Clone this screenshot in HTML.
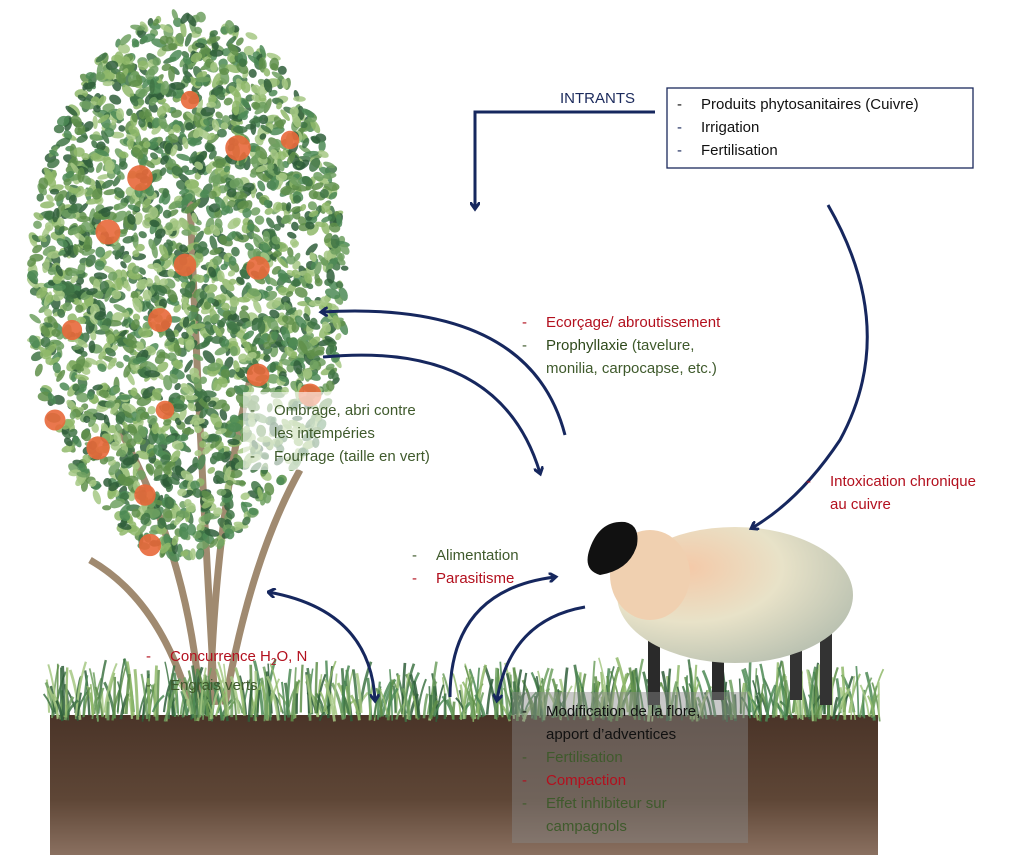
<!DOCTYPE html>
<html><head><meta charset="utf-8"><style>
body{margin:0;background:#fff;width:1029px;height:860px;overflow:hidden;position:relative;font-family:"Liberation Sans",sans-serif}
svg{position:absolute;left:0;top:0}
.t{position:absolute;font-size:15px;line-height:23px;white-space:nowrap}
.g{color:#3f5a2c}.r{color:#b3101e}.n{color:#1b2a5c}.k{color:#111}
.d{display:inline-block;width:24px}
</style></head><body>
<svg id="s" width="1029" height="860" viewBox="0 0 1029 860">
<defs>
<linearGradient id="soil" x1="0" y1="0" x2="0" y2="1"><stop offset="0" stop-color="#4a3428"/><stop offset="0.6" stop-color="#5e4636"/><stop offset="1" stop-color="#8a7060"/></linearGradient>
<radialGradient id="body" cx="0.3" cy="0.3" r="0.8"><stop offset="0" stop-color="#f4c9a8"/><stop offset="0.5" stop-color="#e8e2c8"/><stop offset="1" stop-color="#b8c0b0"/></radialGradient>
<marker id="a" markerWidth="10" markerHeight="10" refX="6" refY="5" orient="auto" markerUnits="userSpaceOnUse"><path d="M0,0 L7,5 L0,10" fill="none" stroke="#16275e" stroke-width="3"/></marker>
<marker id="b" markerWidth="10" markerHeight="10" refX="1" refY="5" orient="auto" markerUnits="userSpaceOnUse"><path d="M8,0 L1,5 L8,10" fill="none" stroke="#16275e" stroke-width="3"/></marker>
</defs>
<rect x="50" y="715" width="828" height="140" fill="url(#soil)"/>
<g id="tree"></g>
<g id="grass"></g>
<g>
<rect x="712" y="620" width="12" height="80" fill="#2a2a2a"/>
<rect x="648" y="620" width="12" height="85" fill="#2a2a2a"/>
<rect x="790" y="620" width="12" height="80" fill="#333"/>
<rect x="820" y="615" width="12" height="90" fill="#333"/>
<ellipse cx="735" cy="595" rx="118" ry="68" fill="url(#body)"/>
<ellipse cx="650" cy="575" rx="40" ry="45" fill="#f0d0b0"/>
<path d="M590,548 Q600,520 625,522 Q640,525 637,545 Q630,570 600,575 Q582,570 590,548Z" fill="#111"/>
</g>
<rect x="512" y="692" width="236" height="151" fill="#888" opacity="0.45"/>
<rect x="243" y="392" width="222" height="78" fill="#fff" opacity="0.6"/>
<rect x="667" y="88" width="306" height="80" fill="#fff" stroke="#1b2a5c" stroke-width="1.3"/>
<g fill="none" stroke="#16275e" stroke-width="3">
<path d="M655,112 L475,112 L475,208" marker-end="url(#a)"/>
<path d="M828,205 Q900,330 840,440 Q800,500 752,528" marker-end="url(#a)"/>
<path d="M565,435 Q530,300 322,312" marker-end="url(#a)"/>
<path d="M323,357 Q500,340 540,473" marker-end="url(#a)"/>
<path d="M268,592 Q370,610 375,700" marker-start="url(#b)" marker-end="url(#a)"/>
<path d="M450,697 Q450,590 555,577" marker-end="url(#a)"/>
<path d="M585,607 Q510,620 497,700" marker-end="url(#a)"/>
</g>
</svg>
<div class="t n" style="left:560px;top:87px">INTRANTS</div>
<div class="t k" style="left:677px;top:93px"><span class="d">-</span>Produits phytosanitaires (Cuivre)<br><span class="d n">-</span>Irrigation<br><span class="d n">-</span>Fertilisation</div>
<div class="t" style="left:522px;top:311px"><span class="r"><span class="d">-</span>Ecorçage/ abroutissement</span><br><span class="g"><span class="d">-</span><b style="font-weight:normal;color:#2f4a1c">Prophyllaxie</b> (tavelure,<br><span class="d"></span>monilia, carpocapse, etc.)</span></div>
<div class="t g" style="left:250px;top:399px"><span class="d">-</span>Ombrage, abri contre<br><span class="d"></span>les intempéries<br><span class="d">-</span>Fourrage (taille en vert)</div>
<div class="t r" style="left:806px;top:470px"><span class="d">-</span>Intoxication chronique<br><span class="d"></span>au cuivre</div>
<div class="t" style="left:412px;top:544px"><span class="g"><span class="d">-</span>Alimentation</span><br><span class="r"><span class="d">-</span>Parasitisme</span></div>
<div class="t" style="left:146px;top:645px"><span class="r"><span class="d">-</span>Concurrence H<sub style="font-size:10px">2</sub>O, N</span><br><span class="g"><span class="d">-</span>Engrais verts</span></div>
<div class="t" style="left:522px;top:700px"><span class="k"><span class="d">-</span>Modification de la flore,<br><span class="d"></span>apport d’adventices</span><br><span class="g"><span class="d">-</span>Fertilisation</span><br><span class="r"><span class="d">-</span>Compaction</span><br><span class="g"><span class="d">-</span>Effet inhibiteur sur<br><span class="d"></span>campagnols</span></div>
<script>
var seed=7;function R(){seed=(seed*16807)%2147483647;return seed/2147483647;}
var ns="http://www.w3.org/2000/svg";
function el(g,n,a){var e=document.createElementNS(ns,n);for(var k in a)e.setAttribute(k,a[k]);g.appendChild(e);}
var t=document.getElementById("tree");
["M200,705 Q190,560 120,430","M210,705 Q215,520 250,380","M225,705 Q250,560 300,470","M190,705 Q160,600 90,560","M215,705 Q200,450 190,200"].forEach(function(d){el(t,"path",{d:d,stroke:"#a08a70","stroke-width":7,fill:"none"});});
var greens=["#5f8f4a","#3f7445","#8fb86a","#6fa060","#2f5e3a","#a6c884","#4c8a55"];
for(var i=0;i<2600;i++){var ang=R()*6.283,r=Math.sqrt(R());var cx=188+Math.cos(ang)*r*158,cy=285+Math.sin(ang)*r*272;
if(cy>430){var w=158*(1-(cy-430)/160);if(Math.abs(cx-180)>w)continue;}
el(t,"ellipse",{cx:cx,cy:cy,rx:3.5+R()*4.5,ry:2.5+R()*2.5,fill:greens[(R()*7)|0],opacity:0.85,transform:"rotate("+(R()*180)+" "+cx+" "+cy+")"});}
[[190,100],[238,148],[140,178],[185,265],[258,268],[72,330],[160,320],[258,375],[310,395],[165,410],[55,420],[98,448],[145,495],[150,545],[108,232],[290,140]].forEach(function(p){el(t,"circle",{cx:p[0],cy:p[1],r:9+R()*4,fill:"#e8683a",opacity:0.9});});
var g=document.getElementById("grass");
for(var i=0;i<520;i++){var x=45+R()*835,h=15+R()*40,y=712+R()*10;var dx=(R()-0.5)*25;
el(g,"path",{d:"M"+x+","+y+" Q"+(x+dx*0.3)+","+(y-h*0.6)+" "+(x+dx)+","+(y-h),stroke:greens[(R()*7)|0],"stroke-width":1.5+R()*1.5,fill:"none",opacity:0.85});}
</script>
</body></html>
